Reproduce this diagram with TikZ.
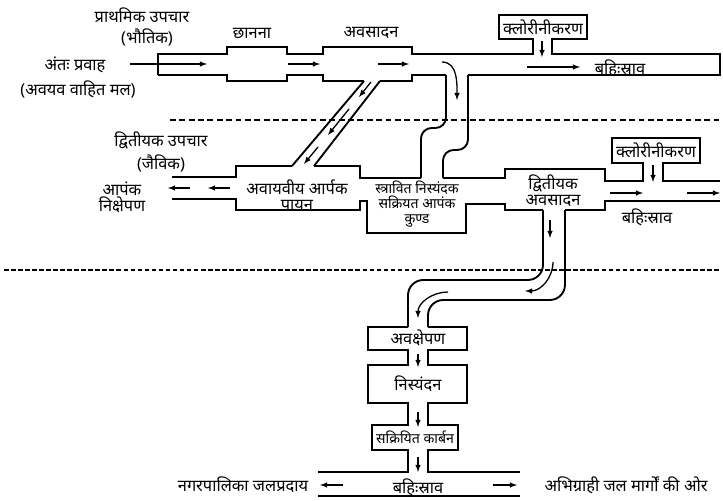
\documentclass[tikz,border=0pt]{standalone}
\usepackage{fontspec}
\newfontfamily\hindi[Script=Devanagari]{Noto Sans}
\usetikzlibrary{arrows}
\tikzstyle{pipe} = [line width=1.6pt]
\tikzstyle{bentpipe} = [line width=1.6pt, rounded corners=9pt]
\tikzstyle{flow} = [line width=1.1pt, -latex]
\tikzstyle{lbl} = [inner sep=1pt, font=\hindi\fontsize{14}{13.5}\selectfont, align=center]
\tikzstyle{sep} = [line width=1.2pt, dash pattern=on 5pt off 3pt]

\begin{document}
\begin{tikzpicture}[x=0.03cm, y=-0.03cm]
	\useasboundingbox (0,0) rectangle (723,500);
	% primary treatment line
	\draw[pipe] (158,75) -- (158,54) -- (227,54) -- (227,47) -- (287,47) -- (287,54) -- (323,54) -- (323,47) -- (412,47) -- (412,54) -- (533,54) -- (533,39) -- (499,39) -- (499,15) -- (587,15) -- (587,39) -- (552,39) -- (552,54) -- (720,54) -- (720,75) -- (468,75);
	\draw[pipe] (158,75) -- (227,75) -- (227,81) -- (287,81) -- (287,75) -- (323,75) -- (323,81) -- (364,81);
	\draw[pipe] (380,81) -- (412,81) -- (412,75) -- (446,75);
	\draw[pipe] (364,81) -- (292,166) (380,81) -- (314,166);
	\draw[bentpipe] (446,75) -- (446,128) -- (421,128) -- (421,178);
	\draw[bentpipe] (468,75) -- (468,150) -- (443,150) -- (443,178);
	% secondary treatment line
	\draw[pipe] (172,177) -- (236,177) -- (236,166) -- (292,166) (314,166) -- (360,166) -- (360,178) -- (421,178) (443,178) -- (505,178) -- (505,169) -- (605,169) -- (605,181) -- (643,181) -- (643,163) -- (612,163) -- (612,138) -- (700,138) -- (700,163) -- (663,163) -- (663,181) -- (720,181);
	\draw[pipe] (172,199) -- (236,199) -- (236,210) -- (360,210) -- (360,201) -- (367,201) -- (367,233) -- (466,233) -- (466,204) -- (505,204) -- (505,210) -- (543,210) (565,210) -- (605,210) -- (605,201) -- (720,201);
	\draw[bentpipe, rounded corners=13pt] (543,210) -- (543,280) -- (408,280) -- (408,327);
	\draw[bentpipe, rounded corners=13pt] (565,210) -- (565,300) -- (428,300) -- (428,327);
	% tertiary treatment
	\draw[pipe] (408,327) -- (368,327) -- (368,350) -- (408,350) -- (408,365) -- (368,365) -- (368,403) -- (408,403) -- (408,425) -- (372,425) -- (372,450) -- (408,450) -- (408,472) -- (318,472);
	\draw[pipe] (428,327) -- (467,327) -- (467,350) -- (428,350) -- (428,365) -- (467,365) -- (467,403) -- (428,403) -- (428,425) -- (458,425) -- (458,450) -- (428,450) -- (428,472) -- (520,472);
	\draw[pipe] (318,496) -- (520,496);
	\draw[sep] (170,120) -- (720,120);
	\draw[sep, line width=1.8pt, dash pattern=on 4pt off 2pt] (4,270) -- (720,270);

	\draw[flow] (130,64) -- (207,64);
	\draw[flow] (288,64) -- (320,64);
	\draw[flow] (378,64) -- (409,64);
	\draw[flow] (442,62) to[out=0, in=90] (457,100);
	\draw[flow] (542,41) -- (542,57);
	\draw[flow] (527,67) -- (580,67);
	\draw[flow] (371,82) -- (359,97);
	\draw[flow] (349,109) -- (328,135);
	\draw[flow] (318,147) -- (304,164);
	\draw[flow] (230,188) -- (208,188);
	\draw[flow] (190,188) -- (168,188);
	\draw[flow] (610,193) -- (643,193);
	\draw[flow] (687,193) -- (720,193);
	\draw[flow] (653,165) -- (653,182);
	\draw[flow] (550,220) -- (550,238);
	\draw[flow] (553,262) to[out=-90, in=0] (525,291);
	\draw[flow] (448,292) to[out=180, in=90] (418,318);
	\draw[flow] (418,354) -- (418,367);
	\draw[flow] (418,412) -- (418,427);
	\draw[flow] (418,457) -- (418,472);
	\draw[flow] (343,485) -- (320,485);
	\draw[flow] (493,485) -- (517,485);

	\node[lbl] (prim) at (142,15) {प्राथमिक उपचार};
	\node[lbl] (bhautik) at (147,37) {(भौतिक)};
	\node[lbl] (inflow) at (75,65) {अंतः प्रवाह};
	\node[lbl] (sewage) at (78,89) {(अवयव वाहित मल)};
	\node[lbl] (screen) at (252,33) {छानना};
	\node[lbl] (sed) at (371,33) {अवसादन};
	\node[lbl] (chlorA) at (543,27) {क्लोरीनीकरण};
	\node[lbl] (effA) at (620,68) {बहिःस्राव};
	\node[lbl] (sec) at (161,140) {द्वितीयक उपचार};
	\node[lbl] (jaivik) at (161,163) {(जैविक)};
	\node[lbl] (disposal) at (122,197) {आपंक\\निक्षेपण};
	\node[lbl] (digest) at (297,195) {अवायवीय आर्पक\\पायन};
	\node[lbl, font=\hindi\fontsize{12}{12.5}\selectfont] (tank) at (417,204) {स्त्रावित निस्यंदक\\सक्रियत आपंक\\कुण्ड};
	\node[lbl] (secsed) at (553,191) {द्वितीयक\\अवसादन};
	\node[lbl] (chlorB) at (656,150) {क्लोरीनीकरण};
	\node[lbl] (effB) at (647,217) {बहिःस्राव};
	\node[lbl] (precip) at (418,338) {अवक्षेपण};
	\node[lbl] (filter) at (418,384) {निस्यंदन};
	\node[lbl, font=\hindi\fontsize{12}{13}\selectfont] (carbon) at (415,437) {सक्रियित कार्बन};
	\node[lbl] (supply) at (243,485) {नगरपालिका जलप्रदाय};
	\node[lbl] (effC) at (418,487) {बहिःस्राव};
	\node[lbl] (stream) at (626,485) {अभिग्राही जल मार्गों की ओर};
\end{tikzpicture}
\end{document}
